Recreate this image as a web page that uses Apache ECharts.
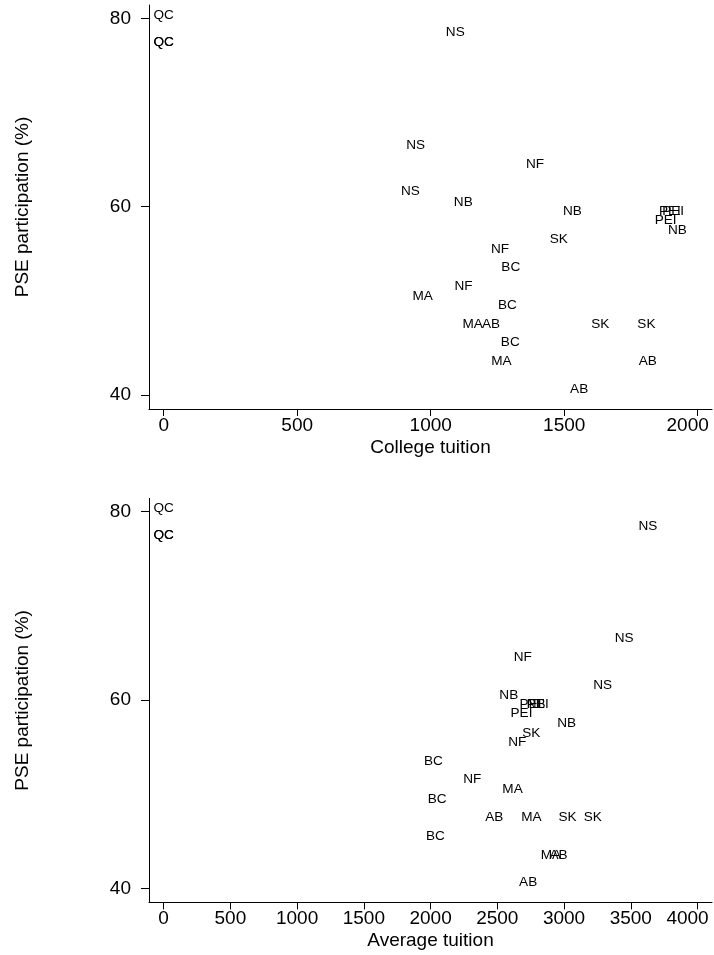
<!DOCTYPE html>
<html>
<head>
<meta charset="utf-8">
<title>PSE participation and tuition</title>
<script src="https://cdn.jsdelivr.net/npm/echarts@6/dist/echarts.min.js"></script>
<style>
  html, body { margin: 0; padding: 0; background: #fff; }
  #chart { width: 714px; height: 955px; }
</style>
</head>
<body>
<div id="chart"></div>
<script>
// One row per province-year observation
const provinces = ['QC', 'QC', 'QC', 'NS', 'NS', 'NS', 'NF', 'NF', 'NF',
  'NB', 'NB', 'NB', 'PEI', 'PEI', 'PEI', 'SK', 'SK', 'SK',
  'BC', 'BC', 'BC', 'MA', 'MA', 'MA', 'AB', 'AB', 'AB'];
const pseParticipation = [80.35, 77.5, 77.5, 78.5, 66.55, 61.6, 64.55, 55.5, 51.55,
  60.5, 59.5, 57.5, 59.5, 59.5, 58.55, 56.5, 47.5, 47.5,
  53.55, 49.5, 45.55, 50.5, 47.5, 43.55, 47.5, 43.55, 40.6];
const collegeTuition = [0, 0, 0, 1092, 944, 924, 1391, 1260, 1123,
  1122, 1531, 1924, 1896, 1908, 1880, 1480, 1635, 1808,
  1300, 1287, 1298, 970, 1157, 1265, 1226, 1813, 1556];
const averageTuition = [0, 0, 0, 3629, 3451, 3290, 2691, 2649, 2312,
  2586, 2791, 3020, 2749, 2803, 2681, 2754, 3026, 3215,
  2021, 2050, 2037, 2614, 2755, 2902, 2477, 2959, 2731];

// Axis tick values
const collegeTicks = [0, 500, 1000, 1500, 2000];
const averageTicks = [0, 500, 1000, 1500, 2000, 2500, 3000, 3500, 4000];
const pseTicks = [40, 60, 80];

const FONT = '"Liberation Sans", Arial, Helvetica, sans-serif';
const INK = '#000';

function points(xs) {
  return xs.map((x, i) => [x, pseParticipation[i], provinces[i]]);
}

function xAxis(gridIndex, name, min, max, ticks) {
  const last = ticks[ticks.length - 1];
  return {
    type: 'value', gridIndex, name, min, max,
    nameLocation: 'middle', nameGap: 29,
    nameTextStyle: { fontFamily: FONT, fontSize: 19, color: INK },
    splitLine: { show: false },
    axisLine: { show: true, onZero: false, lineStyle: { color: INK, width: 1 } },
    axisTick: { show: true, length: 7, customValues: ticks, lineStyle: { color: INK, width: 1 } },
    axisLabel: {
      customValues: ticks, margin: 7, fontFamily: FONT, fontSize: 19, color: INK,
      // the right-most label is pulled back inside the frame
      formatter: v => (v === last ? '{end|' + v + '}' : String(v)),
      rich: { end: { fontFamily: FONT, fontSize: 19, color: INK, padding: [0, 20, 0, 0] } }
    }
  };
}

function yAxis(gridIndex) {
  return {
    type: 'value', gridIndex, name: 'PSE participation (%)',
    min: 38.51, max: 81.41,
    nameLocation: 'middle', nameGap: 117, nameRotate: 90,
    nameTextStyle: { fontFamily: FONT, fontSize: 19, color: INK },
    splitLine: { show: false },
    axisLine: { show: true, onZero: false, lineStyle: { color: INK, width: 1 } },
    axisTick: { show: true, length: 8, customValues: pseTicks, lineStyle: { color: INK, width: 1 } },
    axisLabel: { customValues: pseTicks, margin: 18, fontFamily: FONT, fontSize: 19, color: INK }
  };
}

function labelSeries(axisIndex, xs) {
  return {
    type: 'scatter', xAxisIndex: axisIndex, yAxisIndex: axisIndex,
    data: points(xs),
    symbol: 'circle', symbolSize: 1,
    itemStyle: { color: 'transparent' },
    silent: true,
    label: {
      show: true, position: 'inside',
      formatter: p => p.data[2],
      fontFamily: FONT, fontSize: 13.6, color: INK,
      textBorderWidth: 0, opacity: 1
    },
    labelLayout: { hideOverlap: false }
  };
}

const chart = echarts.init(document.getElementById('chart'), null, { renderer: 'canvas' });
chart.setOption({
  animation: false,
  backgroundColor: '#fff',
  grid: [
    { left: 149, top: 5, width: 563, height: 404, outerBoundsMode: 'none', containLabel: false },
    { left: 149, top: 498.4, width: 563, height: 404, outerBoundsMode: 'none', containLabel: false }
  ],
  xAxis: [
    xAxis(0, 'College tuition', -55.1, 2053.6, collegeTicks),
    xAxis(1, 'Average tuition', -109.4, 4108.5, averageTicks)
  ],
  yAxis: [yAxis(0), yAxis(1)],
  series: [labelSeries(0, collegeTuition), labelSeries(1, averageTuition)]
});
</script>
</body>
</html>
